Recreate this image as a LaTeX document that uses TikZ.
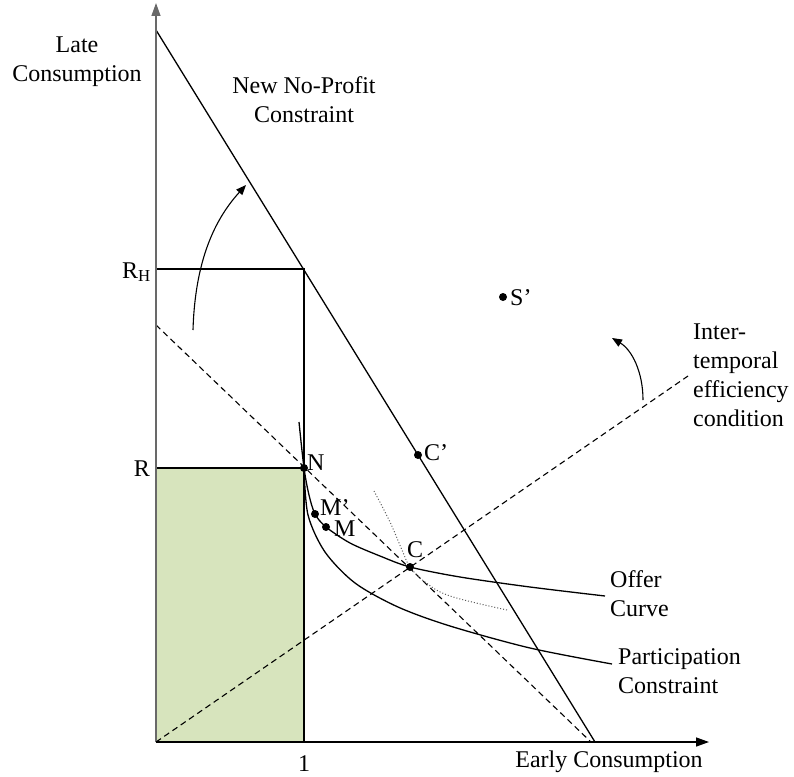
\documentclass[tikz,border=0pt]{standalone}
\usepackage{fontspec}
\setmainfont{Liberation Serif}
\usetikzlibrary{arrows.meta,positioning}
\definecolor{areagreen}{RGB}{215,228,189}
\definecolor{axisgrey}{RGB}{105,105,105}

\begin{document}
\begin{tikzpicture}[x=1pt, y=-1pt,
  axis/.style={line width=1.4pt, -{Triangle[length=13pt,width=9pt]}},
  edge/.style={line width=2.5pt},
  budget/.style={line width=1.3pt},
  guide/.style={line width=1.1pt, dash pattern=on 6pt off 4pt},
  curve/.style={line width=1.3pt},
  indiff/.style={line width=1pt, dotted, black!65},
  dot/.style={circle, fill, inner sep=0pt, minimum size=8pt},
  lbl/.style={font=\fontsize{24}{29}\selectfont, inner sep=0pt, align=center},
  turn/.style={line width=1.1pt, -{Triangle[length=10pt,width=8pt]}},
]
  \useasboundingbox (0,0) rectangle (794,776);
  \coordinate (O) at (156,742);
  \coordinate (ytip) at (156,3);
  \coordinate (xtip) at (709,742);
  \coordinate (top) at (156,30);
  \coordinate (foot) at (595,742);
  \coordinate (rh) at (156,269);
  \coordinate (corner) at (304,269);
  \coordinate (r) at (156,468);
  \coordinate (one) at (304,742);
  \coordinate (oldtop) at (156,325);
  \coordinate (oldfoot) at (591,742);
  \coordinate (eff) at (688,376);

  \fill[areagreen] (r) rectangle (one);

  % dashed guides
  \draw[guide] (oldtop) -- (oldfoot);
  \draw[guide] (O) -- (eff);

  % curves
  \draw[indiff] plot[smooth, tension=0.6] coordinates {(374,491) (390,522) (402,550) (410,567) (425,582) (450,596) (507,610)};
  \draw[curve] plot[smooth, tension=0.5] coordinates {(299,422) (304,468) (309,495) (315,514) (326,527) (350,543) (380,556) (410,567) (460,577) (530,587) (605,596)};
  \draw[curve] plot[smooth, tension=0.5] coordinates {(304,468) (308,515) (325,552) (355,583) (398,607) (450,626) (530,648) (612,664)};

  % budget lines and boxes
  \draw[budget] (top) -- (foot);
  \draw[edge] (rh) -- (corner) -- (one);
  \draw[edge] (r) -- (304,468);

  % axes
  \draw[axis, axisgrey] (O) -- (ytip);
  \draw[axis] (O) -- (xtip);

  % rotation arrows
  \draw[turn] (193,330) .. controls (195,262) and (214,220) .. (246,185);
  \draw[turn] (643,400) .. controls (643,372) and (632,350) .. (612,338);

  % points
  \node[dot] (N) at (304,468) {};
  \node[dot] (Mp) at (315,514) {};
  \node[dot] (M) at (326,527) {};
  \node[dot] (C) at (410,567) {};
  \node[dot] (Cp) at (418,455) {};
  \node[dot] (Sp) at (503,297) {};

  \node[lbl, anchor=base west] at (307,470) {N};
  \node[lbl, anchor=base west] at (320,515) {M’};
  \node[lbl, anchor=base west] at (334,536) {M};
  \node[lbl, anchor=base] at (415,557) {C};
  \node[lbl, anchor=base west] at (424,460) {C’};
  \node[lbl, anchor=base west] at (510,305) {S’};

  \node[lbl, anchor=base east] at (151,278) {R\textsubscript{H}};
  \node[lbl, anchor=base east] at (150,476) {R};
  \node[lbl, anchor=base] at (304,771) {1};
  \node[lbl, anchor=base] at (609,767) {Early Consumption};
  \node[lbl] at (77,62) {Late\\Consumption};
  \node[lbl] at (304,100) {New No-Profit\\Constraint};
  \node[lbl, align=left, anchor=west] at (693,375) {Inter-\\temporal\\efficiency\\condition};
  \node[lbl, align=left, anchor=west] at (610,594) {Offer\\Curve};
  \node[lbl, align=left, anchor=west] at (618,671) {Participation\\Constraint};
\end{tikzpicture}
\end{document}
